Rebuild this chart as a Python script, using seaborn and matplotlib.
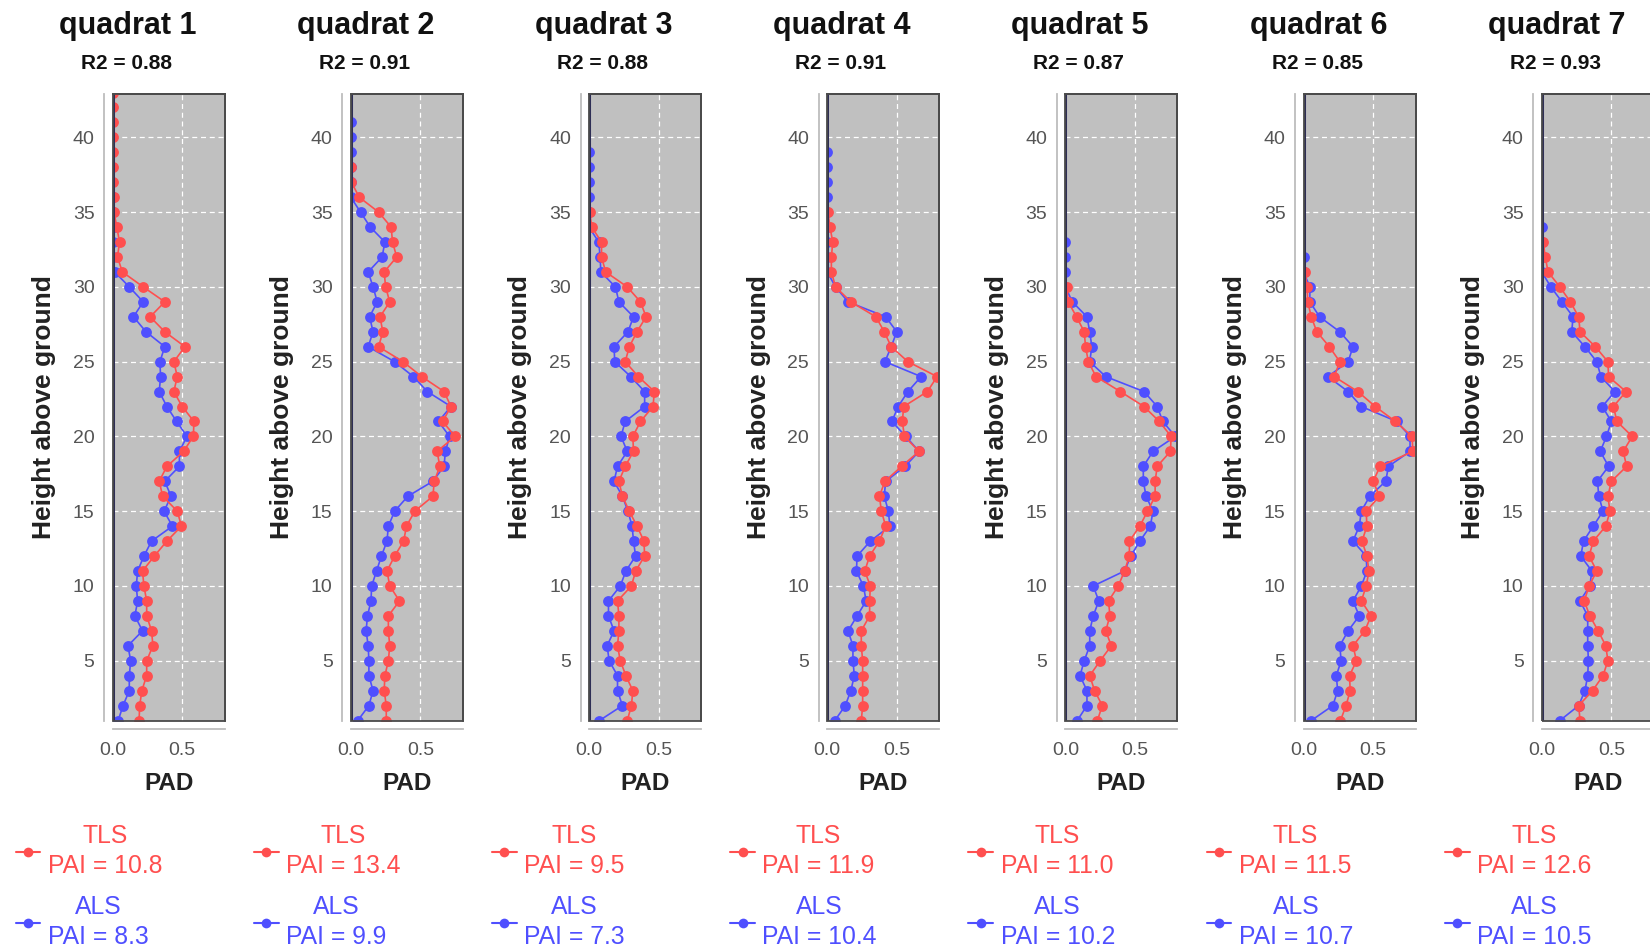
import matplotlib
matplotlib.use("Agg")
import matplotlib.pyplot as plt
import seaborn as sns
import pandas as pd
from matplotlib.lines import Line2D
from matplotlib.patches import Rectangle

# ---------------- data ----------------
quadrats = ["quadrat 1", "quadrat 2", "quadrat 3", "quadrat 4",
            "quadrat 5", "quadrat 6", "quadrat 7"]
r2 = [0.88, 0.91, 0.88, 0.91, 0.87, 0.85, 0.93]
pai_tls = [10.8, 13.4, 9.5, 11.9, 11.0, 11.5, 12.6]
pai_als = [8.3, 9.9, 7.3, 10.4, 10.2, 10.7, 10.5]

# PAD profiles, listed from height 1 m upward (one value per metre)
tls_q1 = [0.19, 0.195, 0.21, 0.245, 0.245, 0.29, 0.28, 0.245, 0.245, 0.225,
          0.215, 0.30, 0.39, 0.495, 0.465, 0.36, 0.335, 0.39, 0.51, 0.58,
          0.585, 0.50, 0.44, 0.465, 0.44, 0.52, 0.375, 0.27, 0.375, 0.22,
          0.07, 0.035, 0.05, 0.03, 0.01, 0.01, 0.005, 0.005, 0.005, 0.005,
          0.005, 0.005, 0.005]
als_q1 = [0.04, 0.075, 0.12, 0.12, 0.13, 0.11, 0.215, 0.16, 0.18, 0.17,
          0.18, 0.225, 0.28, 0.43, 0.37, 0.42, 0.375, 0.48, 0.48, 0.535,
          0.46, 0.39, 0.335, 0.345, 0.34, 0.375, 0.24, 0.15, 0.22, 0.12,
          0.015, 0.005, 0.005, 0.01, 0.0, 0.0]

tls_q2 = [0.255, 0.255, 0.24, 0.245, 0.27, 0.28, 0.27, 0.27, 0.35, 0.28,
          0.26, 0.315, 0.38, 0.40, 0.46, 0.59, 0.60, 0.64, 0.62, 0.75,
          0.66, 0.72, 0.67, 0.51, 0.375, 0.20, 0.23, 0.21, 0.28, 0.25,
          0.24, 0.33, 0.30, 0.29, 0.20, 0.06, 0.005, 0.005]
als_q2 = [0.05, 0.13, 0.16, 0.13, 0.13, 0.125, 0.11, 0.12, 0.145, 0.15,
          0.185, 0.22, 0.26, 0.27, 0.315, 0.41, 0.59, 0.67, 0.68, 0.71,
          0.63, 0.72, 0.55, 0.45, 0.315, 0.125, 0.16, 0.135, 0.19, 0.16,
          0.125, 0.225, 0.245, 0.14, 0.07, 0.0, 0.0, 0.0, 0.0, 0.0, 0.0]

tls_q3 = [0.275, 0.305, 0.315, 0.265, 0.225, 0.205, 0.215, 0.215, 0.205, 0.305,
          0.335, 0.40, 0.395, 0.345, 0.29, 0.24, 0.215, 0.26, 0.32, 0.315,
          0.37, 0.46, 0.47, 0.355, 0.26, 0.29, 0.345, 0.41, 0.37, 0.275,
          0.12, 0.09, 0.09, 0.02, 0.005]
als_q3 = [0.075, 0.24, 0.205, 0.205, 0.145, 0.13, 0.18, 0.14, 0.14, 0.225,
          0.265, 0.335, 0.32, 0.31, 0.28, 0.24, 0.18, 0.205, 0.275, 0.23,
          0.26, 0.40, 0.40, 0.30, 0.185, 0.18, 0.28, 0.32, 0.215, 0.19,
          0.085, 0.08, 0.07, 0.0, 0.0, 0.0, 0.0, 0.0, 0.0]

tls_q4 = [0.245, 0.255, 0.255, 0.255, 0.255, 0.245, 0.245, 0.305, 0.305, 0.31,
          0.27, 0.305, 0.375, 0.42, 0.39, 0.375, 0.415, 0.535, 0.66, 0.555,
          0.54, 0.55, 0.72, 0.79, 0.58, 0.46, 0.41, 0.35, 0.17, 0.06,
          0.03, 0.03, 0.04, 0.02, 0.005]
als_q4 = [0.055, 0.13, 0.17, 0.195, 0.185, 0.185, 0.15, 0.215, 0.28, 0.26,
          0.21, 0.215, 0.31, 0.45, 0.44, 0.41, 0.42, 0.56, 0.66, 0.565,
          0.465, 0.51, 0.58, 0.675, 0.415, 0.46, 0.50, 0.42, 0.15, 0.06,
          0.0, 0.0, 0.0, 0.0, 0.0, 0.0, 0.0, 0.0, 0.0]

tls_q5 = [0.23, 0.265, 0.21, 0.175, 0.25, 0.33, 0.29, 0.32, 0.31, 0.38,
          0.425, 0.46, 0.46, 0.535, 0.59, 0.645, 0.645, 0.66, 0.755, 0.76,
          0.675, 0.565, 0.395, 0.22, 0.165, 0.145, 0.135, 0.08, 0.02, 0.01]
als_q5 = [0.085, 0.155, 0.155, 0.105, 0.135, 0.175, 0.175, 0.20, 0.24, 0.20,
          0.425, 0.47, 0.535, 0.61, 0.63, 0.58, 0.56, 0.56, 0.63, 0.79,
          0.70, 0.66, 0.565, 0.29, 0.175, 0.19, 0.175, 0.155, 0.05, 0.0,
          0.0, 0.0, 0.0]

tls_q6 = [0.265, 0.305, 0.335, 0.33, 0.38, 0.355, 0.44, 0.485, 0.415, 0.45,
          0.47, 0.455, 0.42, 0.455, 0.45, 0.545, 0.50, 0.55, 0.785, 0.78,
          0.66, 0.515, 0.39, 0.22, 0.26, 0.185, 0.095, 0.055, 0.03, 0.025,
          0.01]
als_q6 = [0.055, 0.21, 0.245, 0.235, 0.27, 0.26, 0.32, 0.40, 0.355, 0.415,
          0.455, 0.45, 0.355, 0.40, 0.415, 0.475, 0.59, 0.61, 0.765, 0.765,
          0.67, 0.415, 0.32, 0.175, 0.32, 0.355, 0.26, 0.115, 0.045, 0.045,
          0.0, 0.0]

tls_q7 = [0.275, 0.265, 0.365, 0.44, 0.475, 0.46, 0.405, 0.345, 0.305, 0.34,
          0.395, 0.34, 0.37, 0.46, 0.49, 0.475, 0.50, 0.61, 0.585, 0.65,
          0.54, 0.515, 0.605, 0.48, 0.475, 0.385, 0.275, 0.265, 0.205, 0.13,
          0.045, 0.025, 0.01]
als_q7 = [0.13, 0.265, 0.31, 0.33, 0.335, 0.33, 0.33, 0.33, 0.275, 0.345,
          0.36, 0.28, 0.30, 0.37, 0.44, 0.41, 0.40, 0.48, 0.42, 0.465,
          0.50, 0.435, 0.525, 0.425, 0.395, 0.31, 0.215, 0.225, 0.145, 0.065,
          0.0, 0.0, 0.0, 0.0]

tls_profiles = [tls_q1, tls_q2, tls_q3, tls_q4, tls_q5, tls_q6, tls_q7]
als_profiles = [als_q1, als_q2, als_q3, als_q4, als_q5, als_q6, als_q7]

x_ticks = [0.0, 0.5]
x_tick_labels = ["0.0", "0.5"]
y_ticks = [5, 10, 15, 20, 25, 30, 35, 40]

# ---------------- style ----------------
RED = "#FF4F4F"
BLUE = "#4F4FFF"
sns.set_style("white")
plt.rcParams["font.family"] = ["Liberation Sans", "DejaVu Sans"]

W, H = 1650, 950
fig = plt.figure(figsize=(W / 100, H / 100), dpi=100)

plot_bottom_px, plot_top_px = 721, 94
plot_w_px = 112

for i in range(len(quadrats)):
    left_px = 112.6 + 238.2 * i
    ax = fig.add_axes([left_px / W, (H - plot_bottom_px) / H,
                       plot_w_px / W, (plot_bottom_px - plot_top_px) / H])
    ax.set_facecolor("#C0C0C0")

    rows = []
    for name, prof in (("ALS", als_profiles[i]), ("TLS", tls_profiles[i])):
        for h, v in enumerate(prof, start=1):
            rows.append({"sensor": name, "height": h, "PAD": v})
    df = pd.DataFrame(rows)

    for name, col in (("ALS", BLUE), ("TLS", RED)):
        sub = df[df["sensor"] == name]
        sns.lineplot(data=sub, x="PAD", y="height", sort=False, estimator=None,
                     color=col, marker="o", markersize=7.8, markeredgewidth=0,
                     linewidth=1.2, ax=ax, legend=False, zorder=3)

    ax.axvline(0, color="#2E2E55", lw=2.2, zorder=4)

    ax.set_xlim(0, 0.805)
    ax.set_ylim(0.97, 42.9)
    ax.set_xticks(x_ticks)
    ax.set_xticklabels(x_tick_labels)
    ax.set_yticks(y_ticks)
    ax.grid(True, color="white", linestyle=(0, (4, 3)), linewidth=0.9, zorder=1)
    ax.set_axisbelow(True)

    for s in ("top", "right"):
        ax.spines[s].set_color("#4A4A4A")
        ax.spines[s].set_linewidth(1.3)
    for s in ("left", "bottom"):
        ax.spines[s].set_position(("outward", 6))
        ax.spines[s].set_color("#BDBDBD")
        ax.spines[s].set_linewidth(1.3)
    ax.add_patch(Rectangle((0, 0), 1, 1, transform=ax.transAxes, fill=False,
                           edgecolor="#4A4A4A", lw=1.3, clip_on=False, zorder=5))

    ax.tick_params(axis="both", direction="out", length=3, width=1,
                   color="#9A9A9A", labelcolor="#555555", labelsize=14, pad=4)
    ax.tick_params(axis="x", pad=6)

    ax.set_xlabel("PAD", fontsize=17.5, fontweight="bold", color="#222222")
    ax.xaxis.set_label_coords(0.5, (plot_bottom_px - 783) / (plot_bottom_px - plot_top_px))
    ax.xaxis.label.set_va("center")
    ax.set_ylabel("Height above ground", fontsize=19, fontweight="bold", color="#222222")
    ax.yaxis.set_label_coords((44 - 112.6) / plot_w_px, 0.5)
    ax.yaxis.label.set_va("center")
    ax.yaxis.label.set_ha("center")

    fig.text((left_px + 14.7) / W, 1 - 26 / H, quadrats[i], ha="center", va="center",
             fontsize=22, fontweight="bold", color="#111111")
    fig.text((left_px + 13.5) / W, 1 - 63.5 / H, f"R2 = {r2[i]:.2f}", ha="center",
             va="center", fontsize=15, fontweight="bold", color="#111111")

    handles = [Line2D([], [], color=RED, marker="o", markersize=7, lw=1.5,
                      markeredgewidth=0),
               Line2D([], [], color=BLUE, marker="o", markersize=7, lw=1.5,
                      markeredgewidth=0)]
    labels = [f"TLS\nPAI = {pai_tls[i]:.1f}", f"ALS\nPAI = {pai_als[i]:.1f}"]
    leg = ax.legend(handles, labels, loc="upper left",
                    bbox_to_anchor=((left_px - 97) / W, (H - 824) / H),
                    bbox_transform=fig.transFigure, frameon=False, fontsize=17.8,
                    handlelength=1.0, handletextpad=0.3, labelspacing=0.7,
                    borderpad=0, borderaxespad=0, labelcolor=[RED, BLUE])
    for t in leg.get_texts():
        t.set_multialignment("center")
        t.set_linespacing(1.32)

fig.savefig("out.png", dpi=100)
